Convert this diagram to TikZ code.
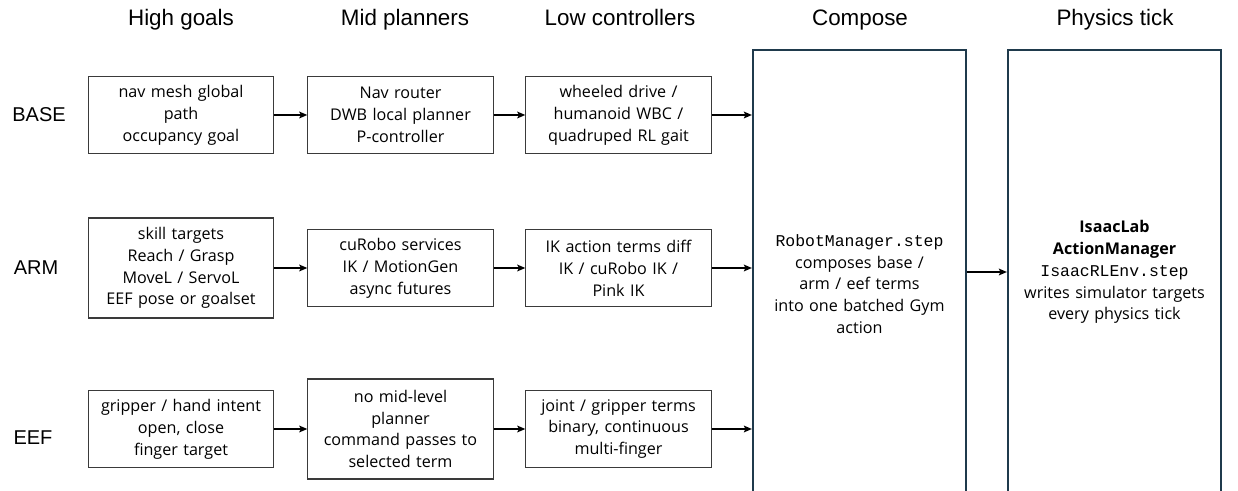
\documentclass[tikz,border=0pt]{standalone}
\usepackage{fontspec}
\setmainfont{Open Sans}
\newfontfamily\headfont{Liberation Sans}
\setmonofont{Liberation Mono}[Scale=1.02]
\usetikzlibrary{arrows.meta}
\definecolor{framecol}{HTML}{1F3A4C}
\definecolor{boxcol}{HTML}{3A3A3A}
\begin{document}
\begin{tikzpicture}[x=0.75pt, y=-0.75pt, ->, >={Stealth[length=6pt, width=5pt, inset=1.2pt]},
    box/.style={draw=boxcol, line width=0.8pt, minimum width=139pt, minimum height=58pt,
      text width=138pt, align=center, inner sep=0pt,
      font=\fontsize{12.1}{16.4}\selectfont},
    tallbox/.style={box, minimum height=75pt},
    frame/.style={draw=framecol, line width=1.4pt, minimum width=160pt, minimum height=351pt},
    frametext/.style={text width=158pt, align=center,
      font=\fontsize{12.1}{16.4}\selectfont},
    title/.style={anchor=base, font=\headfont\fontsize{16.8}{18}\selectfont},
    rowlabel/.style={font=\headfont\fontsize{15}{17}\selectfont},
    flow/.style={line width=1.2pt, draw=black}]
  \useasboundingbox (0,0) rectangle (1238,491);
  \clip (0,0) rectangle (1238,491);

  % column titles
  \node[title] (thigh) at (181,26) {High goals};
  \node[title] (tmid) at (405,26) {Mid planners};
  \node[title] (tlow) at (620,26) {Low controllers};
  \node[title] (tcomp) at (860,26) {Compose};
  \node[title] (tphys) at (1115,26) {Physics tick};

  % row labels
  \node[rowlabel] (lbase) at (39,115) {BASE};
  \node[rowlabel] (larm) at (36,268) {ARM};
  \node[rowlabel] (leef) at (33,438) {EEF};

  % base row
  \node[box] (basehigh) at (181,115) {nav mesh global\\path\\occupancy goal};
  \node[box] (basemid) at (400.5,115) {Nav router\\DWB local planner\\P-controller};
  \node[box] (baselow) at (618.5,115) {wheeled drive /\\humanoid WBC /\\quadruped RL gait};

  % arm row
  \node[tallbox] (armhigh) at (181,268) {skill targets\\Reach / Grasp\\MoveL / ServoL\\EEF pose or goalset};
  \node[box] (armmid) at (400.5,268) {cuRobo services\\IK / MotionGen\\async futures};
  \node[box] (armlow) at (618.5,268) {IK action terms diff\\IK / cuRobo IK /\\Pink IK};

  % eef row
  \node[box] (eefhigh) at (181,429) {gripper / hand intent\\open, close\\finger target};
  \node[tallbox] (eefmid) at (400.5,429) {no mid-level\\planner\\command passes to\\selected term};
  \node[box] (eeflow) at (618.5,429) {joint / gripper terms\\binary, continuous\\multi-finger};

  % compose and physics columns (open at the bottom)
  \node[frame] (compose) at (859.5,284) {};
  \node[frame] (physics) at (1114.5,284) {};
  \node[frametext] (composetxt) at (859.5,284) {{\ttfamily RobotManager.step}\\composes base /\\arm / eef terms\\into one batched Gym\\action};
  \node[frametext] (physicstxt) at (1114.5,272) {\textbf{IsaacLab}\\\textbf{ActionManager}\\{\ttfamily IsaacRLEnv.step}\\writes simulator targets\\every physics tick};

  % arrows along each row
  \draw[flow] (basehigh) -- (basemid);
  \draw[flow] (basemid) -- (baselow);
  \draw[flow] (baselow) -- (baselow -| compose.west);
  \draw[flow] (armhigh) -- (armmid);
  \draw[flow] (armmid) -- (armlow);
  \draw[flow] (armlow) -- (armlow -| compose.west);
  \draw[flow] (eefhigh) -- (eefmid);
  \draw[flow] (eefmid) -- (eeflow);
  \draw[flow] (eeflow) -- (eeflow -| compose.west);

  % compose feeds the physics step
  \draw[flow] (compose.east |- physicstxt) -- (physics.west |- physicstxt);
\end{tikzpicture}
\end{document}
